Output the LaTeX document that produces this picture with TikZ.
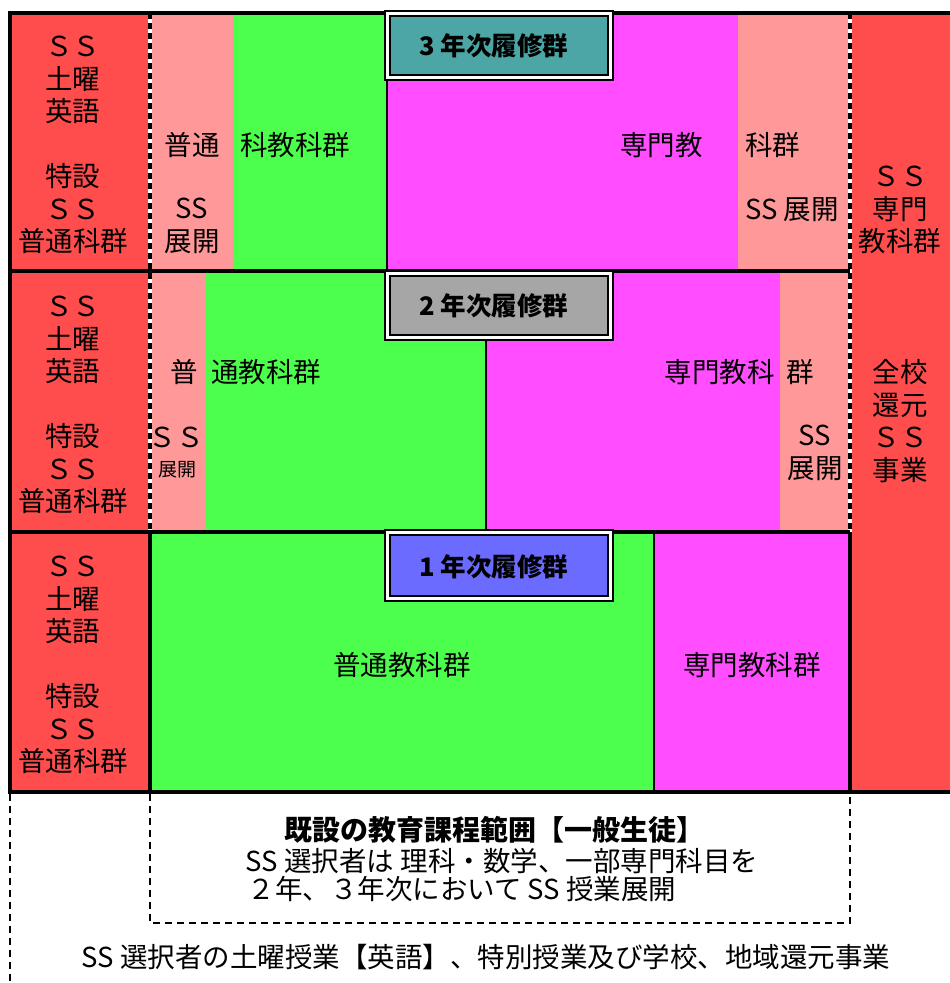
\documentclass[tikz,border=0pt]{standalone}
\usepackage{fontspec}
\setmainfont{Noto Sans CJK JP}
\definecolor{cred}{RGB}{255,77,77}
\definecolor{cpink}{RGB}{255,153,153}
\definecolor{cgreen}{RGB}{77,255,77}
\definecolor{cmag}{RGB}{255,77,255}
\definecolor{cteal}{RGB}{77,166,166}
\definecolor{cgray}{RGB}{166,166,166}
\definecolor{cblue}{RGB}{107,107,255}
\tikzset{
  lbl/.style={font=\fontsize{27.5}{32.5}\selectfont, inner sep=0pt, align=center},
  sml/.style={font=\fontsize{19}{22}\selectfont, inner sep=0pt, align=center},
  ttl/.style={font=\fontsize{25.5}{28}\selectfont\bfseries, inner sep=0pt},
  bld/.style={font=\fontsize{28}{30}\selectfont\bfseries, inner sep=0pt},
  border/.style={line width=4pt},
  sep/.style={line width=3.5pt},
  thinsep/.style={line width=1.5pt},
  dashsep/.style={line width=3.5pt, dash pattern=on 6pt off 4pt},
  outdash/.style={line width=1.8pt, dash pattern=on 7pt off 5pt},
  outbox/.style={line width=1.8pt, fill=white},
  inbox/.style={line width=2.6pt}
}
\begin{document}
\begin{tikzpicture}[x=1pt,y=-1pt]
\useasboundingbox (0,0) rectangle (950,983);
\begin{scope}
\clip (0,0) rectangle (950,983);
% fills
\fill[cred] (10,13) rectangle (150,792);
\fill[cpink] (150,13) rectangle (233,271);
\fill[cgreen] (233,13) rectangle (387,271);
\fill[cmag] (387,13) rectangle (738,271);
\fill[cpink] (738,13) rectangle (850,271);
\fill[cpink] (150,271) rectangle (205,532);
\fill[cgreen] (205,271) rectangle (486,532);
\fill[cmag] (486,271) rectangle (780,532);
\fill[cpink] (780,271) rectangle (850,532);
\fill[cgreen] (150,532) rectangle (654,792);
\fill[cmag] (654,532) rectangle (850,792);
\fill[cred] (850,13) rectangle (952,792);
% inner thin separators
\draw[thinsep] (387,78) -- (387,271);
\draw[thinsep] (486,338) -- (486,532);
\draw[thinsep] (654,532) -- (654,792);
% dashed verticals
\draw[white, line width=3.5pt] (150,13) -- (150,532);
\draw[dashsep] (150,13) -- (150,532);
\draw[white, line width=3.5pt] (850,13) -- (850,532);
\draw[dashsep] (850,13) -- (850,532);
\draw[sep] (150,532) -- (150,792);
\draw[sep] (850,532) -- (850,792);
% row separators
\draw[sep] (10,271) -- (850,271);
\draw[sep] (10,532) -- (850,532);
% outer border
\draw[border] (952,13) -- (10,13) -- (10,792) -- (952,792);
% bottom dashed frames
\draw[outdash] (10,794) -- (10,983);
\draw[outdash] (150,794) -- (150,923) -- (850,923) -- (850,794);
% title boxes
\draw[outbox] (385,11) rectangle (613,80);
\draw[inbox, fill=cteal] (390,16) rectangle (608,75);
\node[ttl] (t3) at (494,46) {3 年次履修群};
\draw[outbox] (385,271) rectangle (613,340);
\draw[inbox, fill=cgray] (390,276) rectangle (608,335);
\node[ttl] (t2) at (494,306) {2 年次履修群};
\draw[outbox] (385,530) rectangle (613,601);
\draw[inbox, fill=cblue] (390,535) rectangle (608,596);
\node[ttl] (t1) at (494,567) {1 年次履修群};
\end{scope}
% left column texts
\node[lbl] (l3) at (73,145) {ＳＳ\\土曜\\英語\\[32.5pt]特設\\ＳＳ\\普通科群};
\node[lbl] (l2) at (73,405) {ＳＳ\\土曜\\英語\\[32.5pt]特設\\ＳＳ\\普通科群};
\node[lbl] (l1) at (73,665) {ＳＳ\\土曜\\英語\\[32.5pt]特設\\ＳＳ\\普通科群};
% row 3
\node[lbl] (a1) at (192,145) {普通};
\node[lbl, anchor=west] (a2) at (240,145) {科教科群};
\node[lbl, anchor=east] (a3) at (703,145) {専門教};
\node[lbl, anchor=west] (a4) at (745,145) {科群};
\node[lbl] (a5) at (192,226) {SS\\展開};
\node[lbl, anchor=west] (a6) at (745,210) {SS 展開};
% row 2
\node[lbl] (b1) at (184,372) {普};
\node[lbl, anchor=west] (b2) at (211,372) {通教科群};
\node[lbl, anchor=east] (b3) at (775,372) {専門教科};
\node[lbl] (b4) at (800,372) {群};
\node[lbl] (b5) at (176,437) {ＳＳ};
\node[sml] (b6) at (177,470) {展開};
\node[lbl] (b7) at (815,453) {SS\\展開};
% right column
\node[lbl] (r1) at (900,210) {ＳＳ\\専門\\教科群};
\node[lbl] (r2) at (900,421) {全校\\還元\\ＳＳ\\事業};
% row 1
\node[lbl] (c1) at (402,665) {普通教科群};
\node[lbl] (c2) at (752,665) {専門教科群};
% bottom texts
\node[bld] (d1) at (494,830) {既設の教育課程範囲【一般生徒】};
\node[lbl] (d2) at (502,861) {SS 選択者は 理科・数学、一部専門科目を};
\node[lbl] (d3) at (462,889) {２年、３年次において SS 授業展開};
\node[lbl] (d4) at (486,957) {SS 選択者の土曜授業【英語】、特別授業及び学校、地域還元事業};
\end{tikzpicture}
\end{document}
